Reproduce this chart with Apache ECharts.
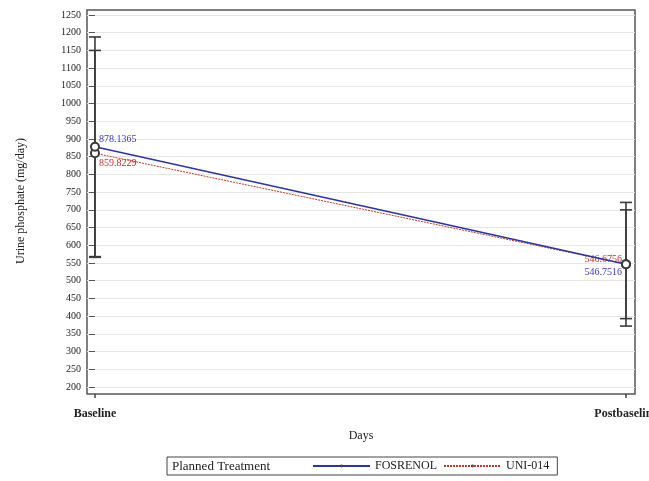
<!DOCTYPE html>
<html>
<head>
<meta charset="utf-8">
<script src="https://cdn.jsdelivr.net/npm/echarts@6/dist/echarts.min.js"></script>
<style>
  html, body { margin: 0; padding: 0; background: #fff; }
  #chart { width: 649px; height: 481px; }
</style>
</head>
<body>
<div id="chart"></div>
<script>
// x positions: 0 = Baseline, 1 = Postbaseline
var visits = ['Baseline', 'Postbaseline'];
var visitX = [0, 1];

var fosMean = [878.1365, 546.7516];
var fosLow = [568, 372];
var fosHigh = [1188, 721];

var uniMean = [859.8229, 546.6756];
var uniLow = [566, 393];
var uniHigh = [1150, 700];

var serif = 'Liberation Serif';

// 误差线
function renderErr(params, api) {
  var x = api.value(0);
  var lo = api.coord([x, api.value(1)]);
  var hi = api.coord([x, api.value(2)]);
  var w = 6;
  var st = { stroke: '#3a3a3a', lineWidth: 1.6 };
  return {
    type: 'group',
    children: [
      { type: 'line', shape: { x1: lo[0], y1: lo[1], x2: hi[0], y2: hi[1] }, style: st },
      { type: 'line', shape: { x1: lo[0] - w, y1: lo[1], x2: lo[0] + w, y2: lo[1] }, style: st },
      { type: 'line', shape: { x1: hi[0] - w, y1: hi[1], x2: hi[0] + w, y2: hi[1] }, style: st }
    ]
  };
}

function lineData(means, labels) {
  return means.map(function (v, i) {
    return { value: [visitX[i], v], label: labels[i] };
  });
}

var chart = echarts.init(document.getElementById('chart'));
var option = {
  animation: false,
  grid: [
    { left: 87, right: 14, top: 10, bottom: 87, show: true, borderColor: '#555', borderWidth: 1.5, backgroundColor: 'transparent', outerBoundsMode: 'none' },
    { left: 87, right: 14, top: 15, bottom: 94, outerBoundsMode: 'none' }
  ],
  xAxis: [
    { gridIndex: 0, type: 'value', show: false, min: 0, max: 1 },
    {
      gridIndex: 1, type: 'value', min: -0.015, max: 1.017, offset: 7,
      name: 'Days', nameLocation: 'middle', nameGap: 36,
      nameTextStyle: { fontFamily: serif, fontSize: 12, color: '#222' },
      axisLine: { show: false },
      axisTick: { show: true, customValues: visitX, length: 4, lineStyle: { color: '#444', width: 1.5 } },
      axisLabel: {
        customValues: visitX, margin: 14, fontFamily: serif, fontSize: 12, color: '#222', fontWeight: 'bold',
        hideOverlap: false,
        formatter: function (v) { return visits[Math.round(v)]; }
      },
      splitLine: { show: false }
    }
  ],
  yAxis: [
    { gridIndex: 0, type: 'value', show: false, min: 0, max: 1 },
    {
      gridIndex: 1, type: 'value', min: 200, max: 1250, interval: 50,
      name: 'Urine phosphate (mg/day)', nameLocation: 'middle', nameGap: 60,
      nameTextStyle: { fontFamily: serif, fontSize: 12, color: '#222' },
      axisLine: { show: false },
      axisTick: { show: true, length: 6, lineStyle: { color: '#555' } },
      axisLabel: { fontFamily: serif, fontSize: 10, color: '#222', margin: 6, formatter: function (v) { return String(v); } },
      splitLine: { show: true, lineStyle: { color: '#e6e6e6', width: 1 } }
    }
  ],
  legend: {
    top: 457, left: 167,
    data: ['FOSRENOL', 'UNI-014'],
    itemWidth: 57, itemHeight: 1, itemGap: 6,
    borderColor: '#444', borderWidth: 1, padding: [3, 8, 3, 145],
    textStyle: { fontFamily: serif, fontSize: 12, color: '#222' },
    selectedMode: false
  },
  graphic: [
    {
      type: 'text', left: 172, top: 460,
      style: { text: 'Planned Treatment', fontFamily: serif, fontSize: 13, fill: '#222' }
    }
  ],
  series: [
    {
      name: 'FOSRENOL', type: 'line', xAxisIndex: 1, yAxisIndex: 1, z: 3,
      symbol: 'emptyCircle', symbolSize: 8,
      itemStyle: { color: '#3a3a3a', borderWidth: 1.3 },
      lineStyle: { color: '#2e3596', width: 1.5 },
      label: { show: true, fontFamily: serif, fontSize: 10, color: '#3a3ab0', formatter: function (p) { return p.value[1].toFixed(4); } },
      data: lineData(fosMean, [
        { position: 'right', distance: 0, offset: [-1, -7] },
        { position: 'left', distance: 0, offset: [1, 8] }
      ])
    },
    {
      name: 'UNI-014', type: 'line', xAxisIndex: 1, yAxisIndex: 1, z: 2,
      symbol: 'emptyCircle', symbolSize: 8,
      itemStyle: { color: '#3a3a3a', borderWidth: 1.3 },
      lineStyle: { color: '#c0392b', width: 1, type: [2, 1] },
      label: { show: true, fontFamily: serif, fontSize: 10, color: '#c03030', formatter: function (p) { return p.value[1].toFixed(4); } },
      data: lineData(uniMean, [
        { position: 'right', distance: 0, offset: [-1, 10] },
        { position: 'left', distance: 0, offset: [1, -5] }
      ])
    },
    {
      name: 'FOSRENOL CI', type: 'custom', xAxisIndex: 1, yAxisIndex: 1, renderItem: renderErr,
      data: visitX.map(function (x, i) { return [x, fosLow[i], fosHigh[i]]; }), z: 1
    },
    {
      name: 'UNI-014 CI', type: 'custom', xAxisIndex: 1, yAxisIndex: 1, renderItem: renderErr,
      data: visitX.map(function (x, i) { return [x, uniLow[i], uniHigh[i]]; }), z: 1
    }
  ]
};
chart.setOption(option);
</script>
</body>
</html>
